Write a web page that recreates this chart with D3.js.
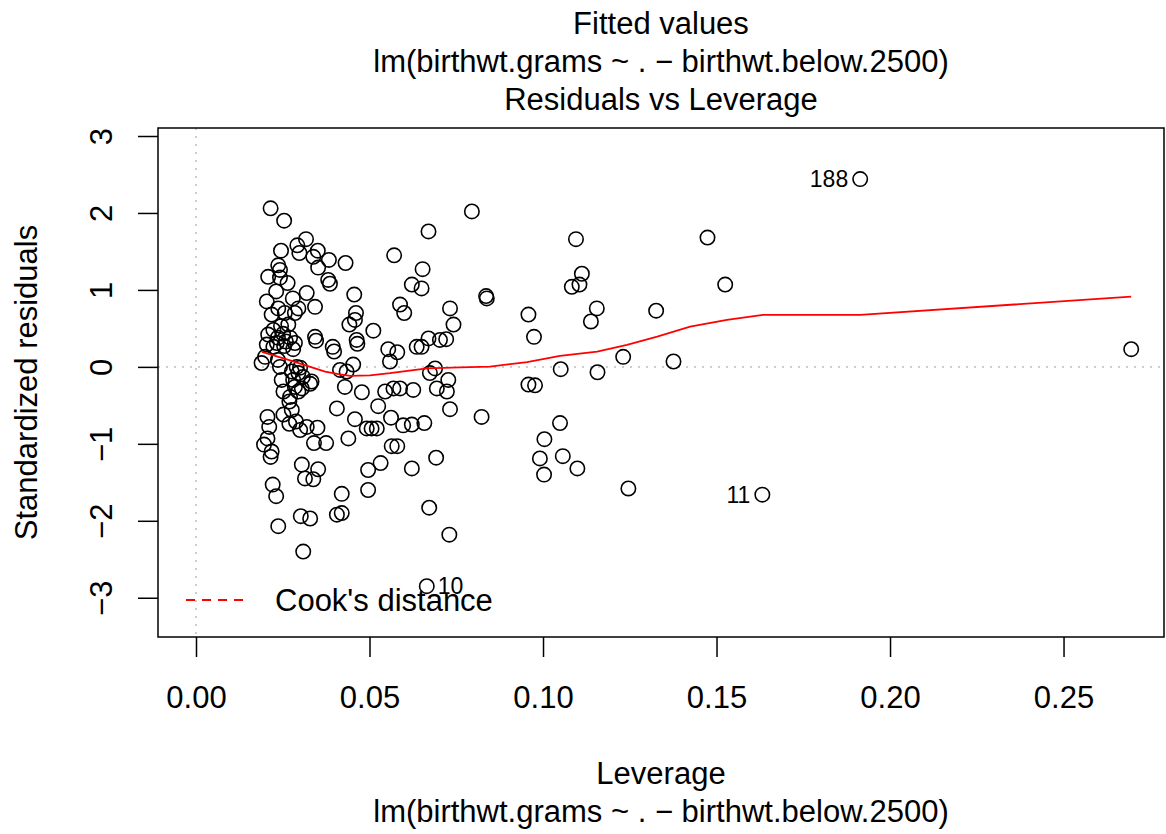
<!DOCTYPE html>
<html>
<head>
<meta charset="utf-8">
<script src="https://cdn.jsdelivr.net/npm/d3@7"></script>
<style>
  body { margin: 0; background: #fff; }
  svg { display: block; }
  text { font-family: "Liberation Sans", Arial, Helvetica, sans-serif; fill: #000; }
</style>
</head>
<body>
<svg id="chart" width="1166" height="834"></svg>
<script>
// Leverage (hat values) of each observation
const leverage = [
  0.0215, 0.0254, 0.0317, 0.0292, 0.0245, 0.0298, 0.0351, 0.0338, 0.0383, 0.0431,
  0.0352, 0.0237, 0.0242, 0.0208, 0.0242, 0.0264, 0.0381, 0.0386, 0.0456, 0.0231,
  0.0319, 0.0279, 0.0204, 0.0343, 0.0237, 0.0295, 0.0285, 0.0218, 0.0461, 0.0458,
  0.0442, 0.0266, 0.0223, 0.0208, 0.0343, 0.0346, 0.0463, 0.0465, 0.0394, 0.0398,
  0.0280, 0.0223, 0.0199, 0.0189, 0.0290, 0.0236, 0.0251, 0.0259, 0.0233, 0.0245,
  0.0271, 0.0254, 0.0242, 0.0276, 0.0295, 0.0247, 0.0280, 0.0329, 0.0285, 0.0305,
  0.0252, 0.0295, 0.0271, 0.0269, 0.0276, 0.0252, 0.0206, 0.0211, 0.0269, 0.0288,
  0.0300, 0.0319, 0.0350, 0.0340, 0.0375, 0.0206, 0.0196, 0.0218, 0.0215, 0.0305,
  0.0352, 0.0314, 0.0338, 0.0221, 0.0231, 0.0302, 0.0329, 0.0237, 0.0309, 0.0415,
  0.0434, 0.0453, 0.0429, 0.0478, 0.0406, 0.0458, 0.0492, 0.0439, 0.0420, 0.0406,
  0.0420, 0.0496, 0.0496, 0.0795, 0.0670, 0.0571, 0.0653, 0.0622, 0.0650, 0.0836,
  0.0838, 0.0588, 0.0600, 0.0732, 0.0742, 0.0511, 0.0670, 0.0703, 0.0721, 0.0636,
  0.0650, 0.0554, 0.0580, 0.0559, 0.0689, 0.0674, 0.0727, 0.0694, 0.0723, 0.0626,
  0.0545, 0.0569, 0.0588, 0.0525, 0.0732, 0.0823, 0.0562, 0.0597, 0.0622, 0.0658,
  0.0506, 0.0521, 0.0564, 0.0580, 0.0692, 0.0532, 0.0622, 0.0672, 0.0730, 0.0665,
  0.1095, 0.1112, 0.1083, 0.1105, 0.0958, 0.1155, 0.1138, 0.0974, 0.1326, 0.1474,
  0.1525, 0.1231, 0.1376, 0.1051, 0.1157, 0.0958, 0.0977, 0.1049, 0.1004, 0.0991,
  0.1057, 0.1099, 0.1003, 0.1246, 0.1632, 0.1914, 0.2695, 0.0300, 0.0308, 0.0204,
  0.0256, 0.0333, 0.0236, 0.0285
];

// Standardized residuals, same order as leverage
const stdResid = [
   2.06,  1.90,  1.66,  1.58,  1.51,  1.48,  1.51,  1.43,  1.39,  1.35,
   1.29,  1.32,  1.26,  1.17,  1.16,  1.09,  1.13,  1.08,  0.94,  0.98,
   0.96,  0.89,  0.85,  0.78,  0.76,  0.76,  0.70,  0.68,  0.70,  0.61,
   0.55,  0.55,  0.48,  0.42,  0.39,  0.34,  0.35,  0.30,  0.26,  0.20,
   0.23,  0.26,  0.13,  0.05,  0.00,  0.38,  0.43,  0.33,  0.31,  0.53,
   0.38,  0.27,  0.00, -0.06, -0.08, -0.17, -0.17, -0.22, -0.26, -0.28,
  -0.32, -0.32, -0.39, -0.45, -0.56, -0.62, -0.65, -0.78, -0.74, -0.71,
  -0.82, -0.78, -0.79, -0.99, -0.99, -0.93, -1.01, -1.10, -1.17, -1.27,
  -1.33, -1.45, -1.46, -1.53, -1.68, -1.94, -1.97, -2.07, -2.40, -0.04,
  -0.06,  0.03, -0.26, -0.33, -0.54, -0.68, -0.80, -0.93, -1.65, -1.92,
  -1.90, -1.34, -1.60,  2.02,  1.76,  1.45,  1.27,  1.07,  1.02,  0.92,
   0.89,  0.81,  0.70,  0.76,  0.55,  0.47,  0.37,  0.35,  0.36,  0.26,
   0.26,  0.23,  0.19,  0.07, -0.02, -0.08, -0.17, -0.28, -0.32, -0.30,
  -0.32, -0.28, -0.28, -0.51, -0.55, -0.65, -0.66, -0.76, -0.75, -0.73,
  -0.80, -0.80, -1.03, -1.03, -1.18, -1.25, -1.32, -1.83, -2.18, -2.85,
   1.66,  1.21,  1.04,  1.07,  0.68,  0.76,  0.59,  0.39,  0.73,  1.68,
   1.07,  0.13,  0.07, -0.03, -0.07, -0.23, -0.24, -0.73, -0.94, -1.19,
  -1.16, -1.32, -1.40, -1.58, -1.66,  2.44,  0.23, -0.01, -0.13,  0.29,
   0.70, -0.19,  0.09,  0.31
];

// Smoothed trend of residuals against leverage
const smoothLeverage = [
  0.0190, 0.0271, 0.0372, 0.0415, 0.0444, 0.0501, 0.0559, 0.0666, 0.0761, 0.0847,
  0.0954, 0.1049, 0.1156, 0.1242, 0.1329, 0.1424, 0.1530, 0.1634, 0.1914, 0.2695
];
const smoothResid = [
  0.195, 0.084, -0.061, -0.097, -0.117, -0.110, -0.082, -0.019, -0.006, 0.004,
  0.061, 0.143, 0.199, 0.286, 0.394, 0.523, 0.610, 0.675, 0.675, 0.913
];

// Observations identified by number
const idLabels = ["188", "11", "10"];
const idLeverage = [0.1914, 0.1632, 0.0665];
const idResid = [2.44, -1.66, -2.85];
const idSide = ["left", "left", "right"];

const xTicks = [0, 0.05, 0.10, 0.15, 0.20, 0.25];
const yTicks = [-3, -2, -1, 0, 1, 2, 3];

const titleLines = [
  "Fitted values",
  "lm(birthwt.grams ~ . \u2212 birthwt.below.2500)",
  "Residuals vs Leverage"
];
const xLabel = "Leverage";
const subCaption = "lm(birthwt.grams ~ . \u2212 birthwt.below.2500)";
const yLabel = "Standardized residuals";
const legendLabel = "Cook's distance";

// ---- layout ----
const box = { left: 158, right: 1164, top: 128, bottom: 637 };
const fontSize = 31;
const idFontSize = 23;
const cx = (box.left + box.right) / 2;
const cy = (box.top + box.bottom) / 2;

const svg = d3.select("#chart");

const x = d3.scaleLinear().domain([-0.01095, 0.27895]).range([box.left, box.right]);
const y = d3.scaleLinear().domain([-3.51, 3.104]).range([box.bottom, box.top]);

// reference lines at zero
const refStyle = g => g.attr("stroke", "#bebebe").attr("stroke-width", 1.5)
  .attr("stroke-dasharray", "2,6").attr("fill", "none");
svg.append("line").call(refStyle)
  .attr("x1", box.left).attr("x2", box.right).attr("y1", y(0)).attr("y2", y(0));
svg.append("line").call(refStyle)
  .attr("x1", x(0)).attr("x2", x(0)).attr("y1", box.top).attr("y2", box.bottom);

// points
svg.append("g").selectAll("circle")
  .data(leverage.map((d, i) => [d, stdResid[i]]))
  .join("circle")
  .attr("cx", d => x(d[0]))
  .attr("cy", d => y(d[1]))
  .attr("r", 7.2)
  .attr("fill", "none")
  .attr("stroke", "#000")
  .attr("stroke-width", 1.6);

// smoother
svg.append("path")
  .datum(smoothLeverage.map((d, i) => [d, smoothResid[i]]))
  .attr("fill", "none")
  .attr("stroke", "#ff0000")
  .attr("stroke-width", 1.8)
  .attr("d", d3.line().x(d => x(d[0])).y(d => y(d[1])));

// id labels
svg.append("g").selectAll("text")
  .data(idLabels.map((l, i) => ({ l, lev: idLeverage[i], r: idResid[i], side: idSide[i] })))
  .join("text")
  .attr("x", d => x(d.lev) + (d.side === "left" ? -12 : 11))
  .attr("y", d => y(d.r))
  .attr("dy", "0.35em")
  .attr("text-anchor", d => d.side === "left" ? "end" : "start")
  .style("font-size", idFontSize + "px")
  .text(d => d.l);

// plot box
svg.append("rect")
  .attr("x", box.left).attr("y", box.top)
  .attr("width", box.right - box.left).attr("height", box.bottom - box.top)
  .attr("fill", "none").attr("stroke", "#000").attr("stroke-width", 1.5);

// x axis
const xAxis = svg.append("g")
  .attr("transform", `translate(0,${box.bottom})`)
  .call(d3.axisBottom(x).tickValues(xTicks).tickFormat(d3.format(".2f"))
    .tickSize(20).tickSizeOuter(0).tickPadding(29));
xAxis.select(".domain").remove();
xAxis.selectAll(".tick line").attr("stroke-width", 1.5);
xAxis.selectAll(".tick text").style("font-size", fontSize + "px")
  .style("font-family", '"Liberation Sans", Arial, sans-serif');

// y axis, labels parallel to the axis
const yAxis = svg.append("g")
  .attr("transform", `translate(${box.left},0)`)
  .call(d3.axisLeft(y).tickValues(yTicks)
    .tickFormat(d => d < 0 ? "\u2212" + Math.abs(d) : String(d))
    .tickSize(20).tickSizeOuter(0));
yAxis.select(".domain").remove();
yAxis.selectAll(".tick line").attr("stroke-width", 1.5);
yAxis.selectAll(".tick text")
  .attr("x", null).attr("dy", null)
  .attr("text-anchor", "middle")
  .attr("transform", "translate(-46,0) rotate(-90)")
  .style("font-size", fontSize + "px")
  .style("font-family", '"Liberation Sans", Arial, sans-serif');

// titles
svg.append("g").selectAll("text")
  .data(titleLines)
  .join("text")
  .attr("x", cx)
  .attr("y", (d, i) => 34 + i * 38)
  .attr("text-anchor", "middle")
  .style("font-size", fontSize + "px")
  .text(d => d);

svg.append("text")
  .attr("x", cx).attr("y", box.bottom + 147)
  .attr("text-anchor", "middle").style("font-size", fontSize + "px")
  .text(xLabel);
svg.append("text")
  .attr("x", cx).attr("y", box.bottom + 185)
  .attr("text-anchor", "middle").style("font-size", fontSize + "px")
  .text(subCaption);
svg.append("text")
  .attr("transform", `translate(37,${cy}) rotate(-90)`)
  .attr("text-anchor", "middle").style("font-size", fontSize + "px")
  .text(yLabel);

// legend (bottom left, no frame)
const legY = box.bottom - 37;
svg.append("line")
  .attr("x1", box.left + 28).attr("x2", box.left + 88)
  .attr("y1", legY).attr("y2", legY)
  .attr("stroke", "#ff0000").attr("stroke-width", 1.8)
  .attr("stroke-dasharray", "9,7");
svg.append("text")
  .attr("x", box.left + 117).attr("y", legY)
  .attr("dy", "0.36em")
  .style("font-size", fontSize + "px")
  .text(legendLabel);
</script>
</body>
</html>
